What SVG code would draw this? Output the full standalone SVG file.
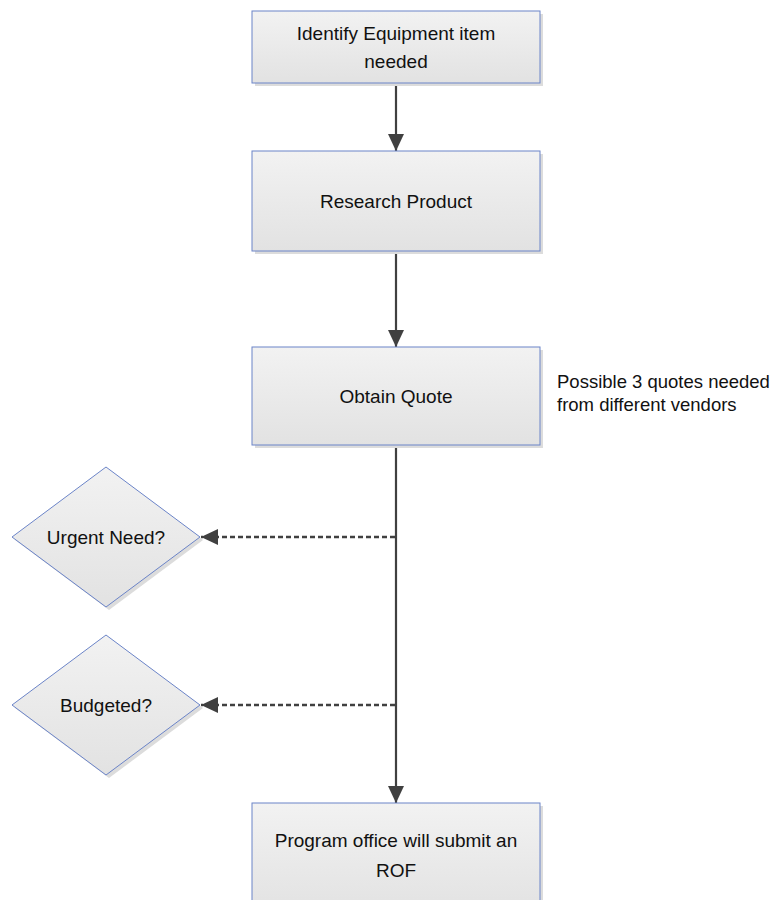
<svg xmlns="http://www.w3.org/2000/svg" width="782" height="900" viewBox="0 0 782 900">
<style>
.box{fill:url(#g);stroke:#6b84c8;stroke-width:1}
.sh{fill:#dcdcdc}
.t{font-family:"Liberation Sans",Arial,sans-serif;font-size:19px;fill:#111;text-anchor:middle}
.a{font-family:"Liberation Sans",Arial,sans-serif;font-size:18.5px;fill:#111}
.c{stroke:#404040;stroke-width:2.2;fill:none}
.d{stroke:#404040;stroke-width:2.4;fill:none;stroke-dasharray:5 3}
</style>
<defs>
<linearGradient id="g" x1="0" y1="0" x2="0" y2="1">
<stop offset="0" stop-color="#f2f2f2"/>
<stop offset="1" stop-color="#e2e2e2"/>
</linearGradient>
<marker id="ar" markerUnits="userSpaceOnUse" markerWidth="18" markerHeight="16" refX="17" refY="8" orient="auto">
<path d="M0,0 L17,8 L0,16 z" fill="#404040"/>
</marker>
</defs>
<g id="connectors">
<line class="c" x1="396" y1="84" x2="396" y2="151" marker-end="url(#ar)"/>
<line class="c" x1="396" y1="252" x2="396" y2="347" marker-end="url(#ar)"/>
<line class="c" x1="396" y1="446" x2="396" y2="803" marker-end="url(#ar)"/>
<line class="d" x1="395" y1="537" x2="201" y2="537" marker-end="url(#ar)"/>
<line class="d" x1="395" y1="705" x2="201" y2="705" marker-end="url(#ar)"/>
</g>
<g id="n1">
<rect class="sh" x="255" y="14" width="288" height="72"/>
<rect class="box" x="252" y="11" width="288" height="72"/>
<text class="t" x="396" y="40">Identify Equipment item</text>
<text class="t" x="396" y="68">needed</text>
</g>
<g id="n2">
<rect class="sh" x="255" y="154" width="288" height="100"/>
<rect class="box" x="252" y="151" width="288" height="100"/>
<text class="t" x="396" y="208">Research Product</text>
</g>
<g id="n3">
<rect class="sh" x="255" y="350" width="288" height="98"/>
<rect class="box" x="252" y="347" width="288" height="98"/>
<text class="t" x="396" y="403">Obtain Quote</text>
</g>
<g id="note">
<text class="a" x="557" y="388">Possible 3 quotes needed</text>
<text class="a" x="557" y="411">from different vendors</text>
</g>
<g id="d1">
<polygon class="sh" points="109,470 203,540 109,610 15,540"/>
<polygon class="box" points="106,467 200,537 106,607 12,537"/>
<text class="t" x="106" y="544">Urgent Need?</text>
</g>
<g id="d2">
<polygon class="sh" points="109,638 203,708 109,778 15,708"/>
<polygon class="box" points="106,635 200,705 106,775 12,705"/>
<text class="t" x="106" y="712">Budgeted?</text>
</g>
<g id="n4">
<rect class="sh" x="255" y="806" width="288" height="110"/>
<rect class="box" x="252" y="803" width="288" height="110"/>
<text class="t" x="396" y="847">Program office will submit an</text>
<text class="t" x="396" y="877">ROF</text>
</g>
</svg>
